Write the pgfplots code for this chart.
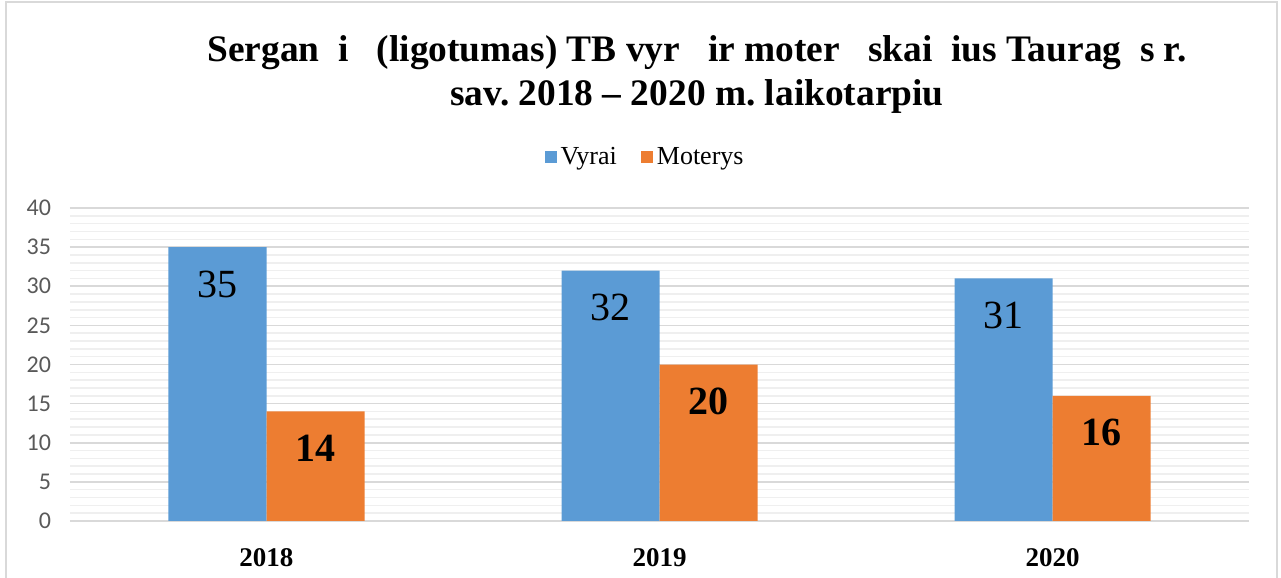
\documentclass[border=0pt]{standalone}
\usepackage{fontspec}
\setmainfont{Liberation Serif}
\newfontfamily\calibri{Carlito}
\usepackage{pgfplots}
\pgfplotsset{compat=1.18}
\definecolor{cblue}{HTML}{5B9BD5}
\definecolor{corange}{HTML}{ED7D31}
\definecolor{gmaj}{HTML}{D9D9D9}
\definecolor{gmin}{HTML}{EFEFEF}
\definecolor{tickgray}{HTML}{595959}
\newcommand\g{\hspace{0.5em}}
\frenchspacing
\begin{document}
\begin{tikzpicture}
\path[use as bounding box] (-35pt,-28.5pt) rectangle (605.5pt,260.5pt);
\draw[gmaj, line width=1pt] (-32pt,-30pt) -- (-32pt,259.5pt) -- (603.5pt,259.5pt) -- (603.5pt,-30pt);
\begin{axis}[
  at={(0pt,0pt)}, anchor=south west,
  scale only axis, width=589.5pt, height=156.5pt,
  xmin=-0.5, xmax=2.5, ymin=0, ymax=40,
  ytick={0,5,...,40}, minor y tick num=4,
  ymajorgrids, yminorgrids,
  major grid style={gmaj, line width=0.8pt},
  minor grid style={gmin, line width=0.8pt},
  axis line style={draw=none}, tick style={draw=none},
  xtick={0,1,2}, xticklabels={2018,2019,2020},
  xticklabel style={font=\bfseries\fontsize{13.5}{16}\selectfont, yshift=-6pt},
  yticklabel style={font=\calibri\fontsize{12}{14}\selectfont, text=tickgray, xshift=-6pt},
  /pgf/number format/assume math mode=true,
  ybar=0pt, bar width=49pt,
  nodes near coords,
  every node near coord/.append style={anchor=center, yshift=-18.5pt, font=\fontsize{20}{24}\selectfont, text=black},
  legend style={at={(0.4886,1.163)}, anchor=center, draw=none, font=\fontsize{13}{15}\selectfont,
    /tikz/every even column/.append style={column sep=10pt}},
  legend columns=2,
  legend image code/.code={\fill[#1,draw=none] (0pt,-3pt) rectangle (6pt,3pt);},
]
\addplot[fill=cblue, draw=none] coordinates {(0,35) (1,32) (2,31)};
\addplot[fill=corange, draw=none, every node near coord/.append style={font=\bfseries\fontsize{20}{24}\selectfont}] coordinates {(0,14) (1,20) (2,16)};
\legend{Vyrai, Moterys}
\end{axis}
\node[align=center, font=\bfseries\fontsize{18.7}{22}\selectfont] at (313.5pt,223pt)
 {Sergan\g i\g\ (ligotumas) TB vyr\g\ ir moter\g\ skai\g ius Taurag\g s r.\\ sav. 2018 -- 2020 m. laikotarpiu};
\end{tikzpicture}
\end{document}
